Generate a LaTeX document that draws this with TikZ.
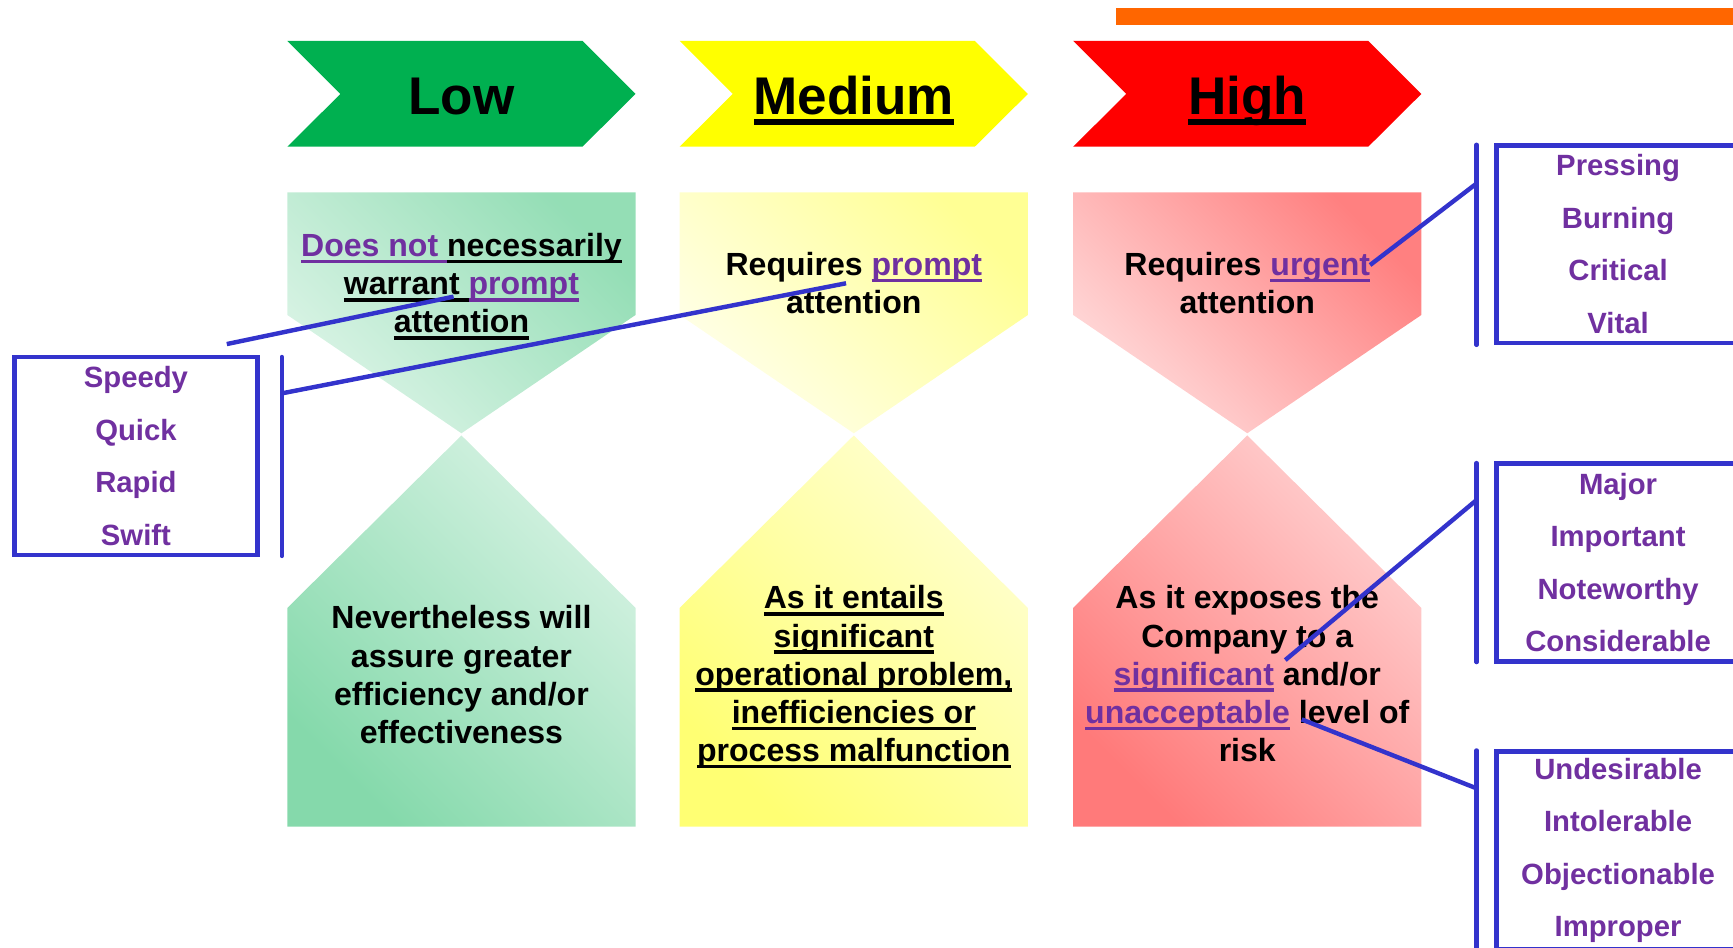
\documentclass[tikz,border=0pt]{standalone}
\usepackage{fontspec}
\setmainfont{Liberation Sans}
\definecolor{pur}{HTML}{7030A0}
\definecolor{lnblue}{HTML}{3333CC}
\definecolor{lowg}{HTML}{00B050}
\definecolor{medy}{HTML}{FFFF00}
\definecolor{highr}{HTML}{FF0000}
\definecolor{orng}{HTML}{FF6600}
\newcommand{\ulx}[1]{\setbox0=\hbox{#1}\rlap{\rule[-0.21em]{\wd0}{0.11em}}\box0}
\newcommand{\pu}[1]{\textcolor{pur}{#1}}
\begin{document}
\begin{tikzpicture}[x=1pt,y=-1pt,
  chevtxt/.style={font=\bfseries\fontsize{48}{56}\selectfont, inner sep=0, anchor=base},
  txt/.style={font=\bfseries\fontsize{29}{34.5}\selectfont, align=center, inner sep=0, anchor=base},
  lst/.style={draw=lnblue, line width=4pt, minimum width=220pt, minimum height=179pt,
    inner sep=0, align=center, text=pur, font=\bfseries\fontsize{26.5}{47.5}\selectfont},
  conn/.style={lnblue, line width=4pt},
  brk/.style={lnblue, line width=4pt, line cap=round}]
\useasboundingbox (0,0) rectangle (1568,857);
\clip (0,0) rectangle (1568,857);
% orange bar
\fill[orng] (1010,7) rectangle (1568,22.5);
% chevrons
\fill[lowg]  (260,37) -- (527,37) -- (575,85) -- (527,132.7) -- (260,132.7) -- (308,85) -- cycle;
\fill[medy]  (615,37) -- (882,37) -- (930,85) -- (882,132.7) -- (615,132.7) -- (663,85) -- cycle;
\fill[highr] (971,37) -- (1238,37) -- (1286,85) -- (1238,132.7) -- (971,132.7) -- (1019,85) -- cycle;
\node[chevtxt] (tlow) at (417.5,103.2) {Low};
\node[chevtxt] (tmed) at (772.5,103.2) {\ulx{Medium}};
\node[chevtxt] (thigh) at (1128.5,103.2) {\ulx{High}};
% upper shapes
\shade[top color=lowg!42, bottom color=lowg!14, shading angle=-45]
  (260,174) -- (575,174) -- (575,285) -- (417.5,392) -- (260,285) -- cycle;
\shade[top color=medy!42!white, bottom color=medy!8!white, shading angle=-45]
  (615,174) -- (930,174) -- (930,285) -- (772.5,392) -- (615,285) -- cycle;
\shade[top color=highr!50!white, bottom color=highr!14!white, shading angle=-45]
  (971,174) -- (1286,174) -- (1286,285) -- (1128.5,392) -- (971,285) -- cycle;
% lower shapes
\shade[top color=lowg!16, bottom color=lowg!48, shading angle=-45]
  (417.5,394) -- (575,550) -- (575,748) -- (260,748) -- (260,550) -- cycle;
\shade[top color=medy!18!white, bottom color=medy!55!white, shading angle=-45]
  (772.5,394) -- (930,550) -- (930,748) -- (615,748) -- (615,550) -- cycle;
\shade[top color=highr!18!white, bottom color=highr!52!white, shading angle=-45]
  (1128.5,394) -- (1286,550) -- (1286,748) -- (971,748) -- (971,550) -- cycle;
% texts (base anchor = baseline of last line)
\node[txt] (lowtop) at (417.5,301.2) {\pu{\ulx{Does not }}\ulx{necessarily}\\\ulx{warrant }\pu{\ulx{prompt}}\\\ulx{attention}};
\node[txt] (medtop) at (772.5,283.9) {Requires \pu{\ulx{prompt}}\\attention};
\node[txt] (hightop) at (1128.5,283.9) {Requires \pu{\ulx{urgent}}\\attention};
\node[txt] (lowbot) at (417.5,672.5) {Nevertheless will\\assure greater\\efficiency and/or\\effectiveness};
\node[txt] (medbot) at (772.5,689) {\ulx{As it entails}\\\ulx{significant}\\\ulx{operational problem,}\\\ulx{inefficiencies or}\\\ulx{process malfunction}};
\node[txt] (highbot) at (1128.5,689) {As it exposes the\\Company to a\\\pu{\ulx{significant}} and/or\\\pu{\ulx{unacceptable}} level of\\risk};
% list boxes
\node[lst] (lstL) at (123,412.5) {Speedy\\Quick\\Rapid\\Swift};
\node[lst] (lstP) at (1464,221) {Pressing\\Burning\\Critical\\Vital};
\node[lst] (lstM) at (1464,509) {Major\\Important\\Noteworthy\\Considerable};
\node[lst] (lstU) at (1464,769.5) {Undesirable\\Intolerable\\Objectionable\\Improper};
% brackets
\coordinate (bLt) at (255,323);   \coordinate (bLb) at (255,503);
\coordinate (bPt) at (1336,131);  \coordinate (bPb) at (1336,312);
\coordinate (bMt) at (1336,419);  \coordinate (bMb) at (1336,599);
\coordinate (bUt) at (1336,679);  \coordinate (bUb) at (1336,870);
\draw[brk] (bLt) -- (bLb);
\draw[brk] (bPt) -- (bPb);
\draw[brk] (bMt) -- (bMb);
\draw[brk] (bUt) -- (bUb);
% connectors
\coordinate (cL) at (255,355.9);   \coordinate (eL) at (765.5,256.3);
\coordinate (fA) at (205.2,311.3); \coordinate (fB) at (410.4,268.4);
\coordinate (cP) at (1336,166);    \coordinate (eP) at (1239.6,239.8);
\coordinate (cM) at (1336,452.4);  \coordinate (eM) at (1162.9,597.2);
\coordinate (cU) at (1336,713.3);  \coordinate (eU) at (1177.8,650.9);
\draw[conn] (cL) -- (eL);
\draw[conn] (fA) -- (fB);
\draw[conn] (cP) -- (eP);
\draw[conn] (cM) -- (eM);
\draw[conn] (cU) -- (eU);
\end{tikzpicture}
\end{document}
